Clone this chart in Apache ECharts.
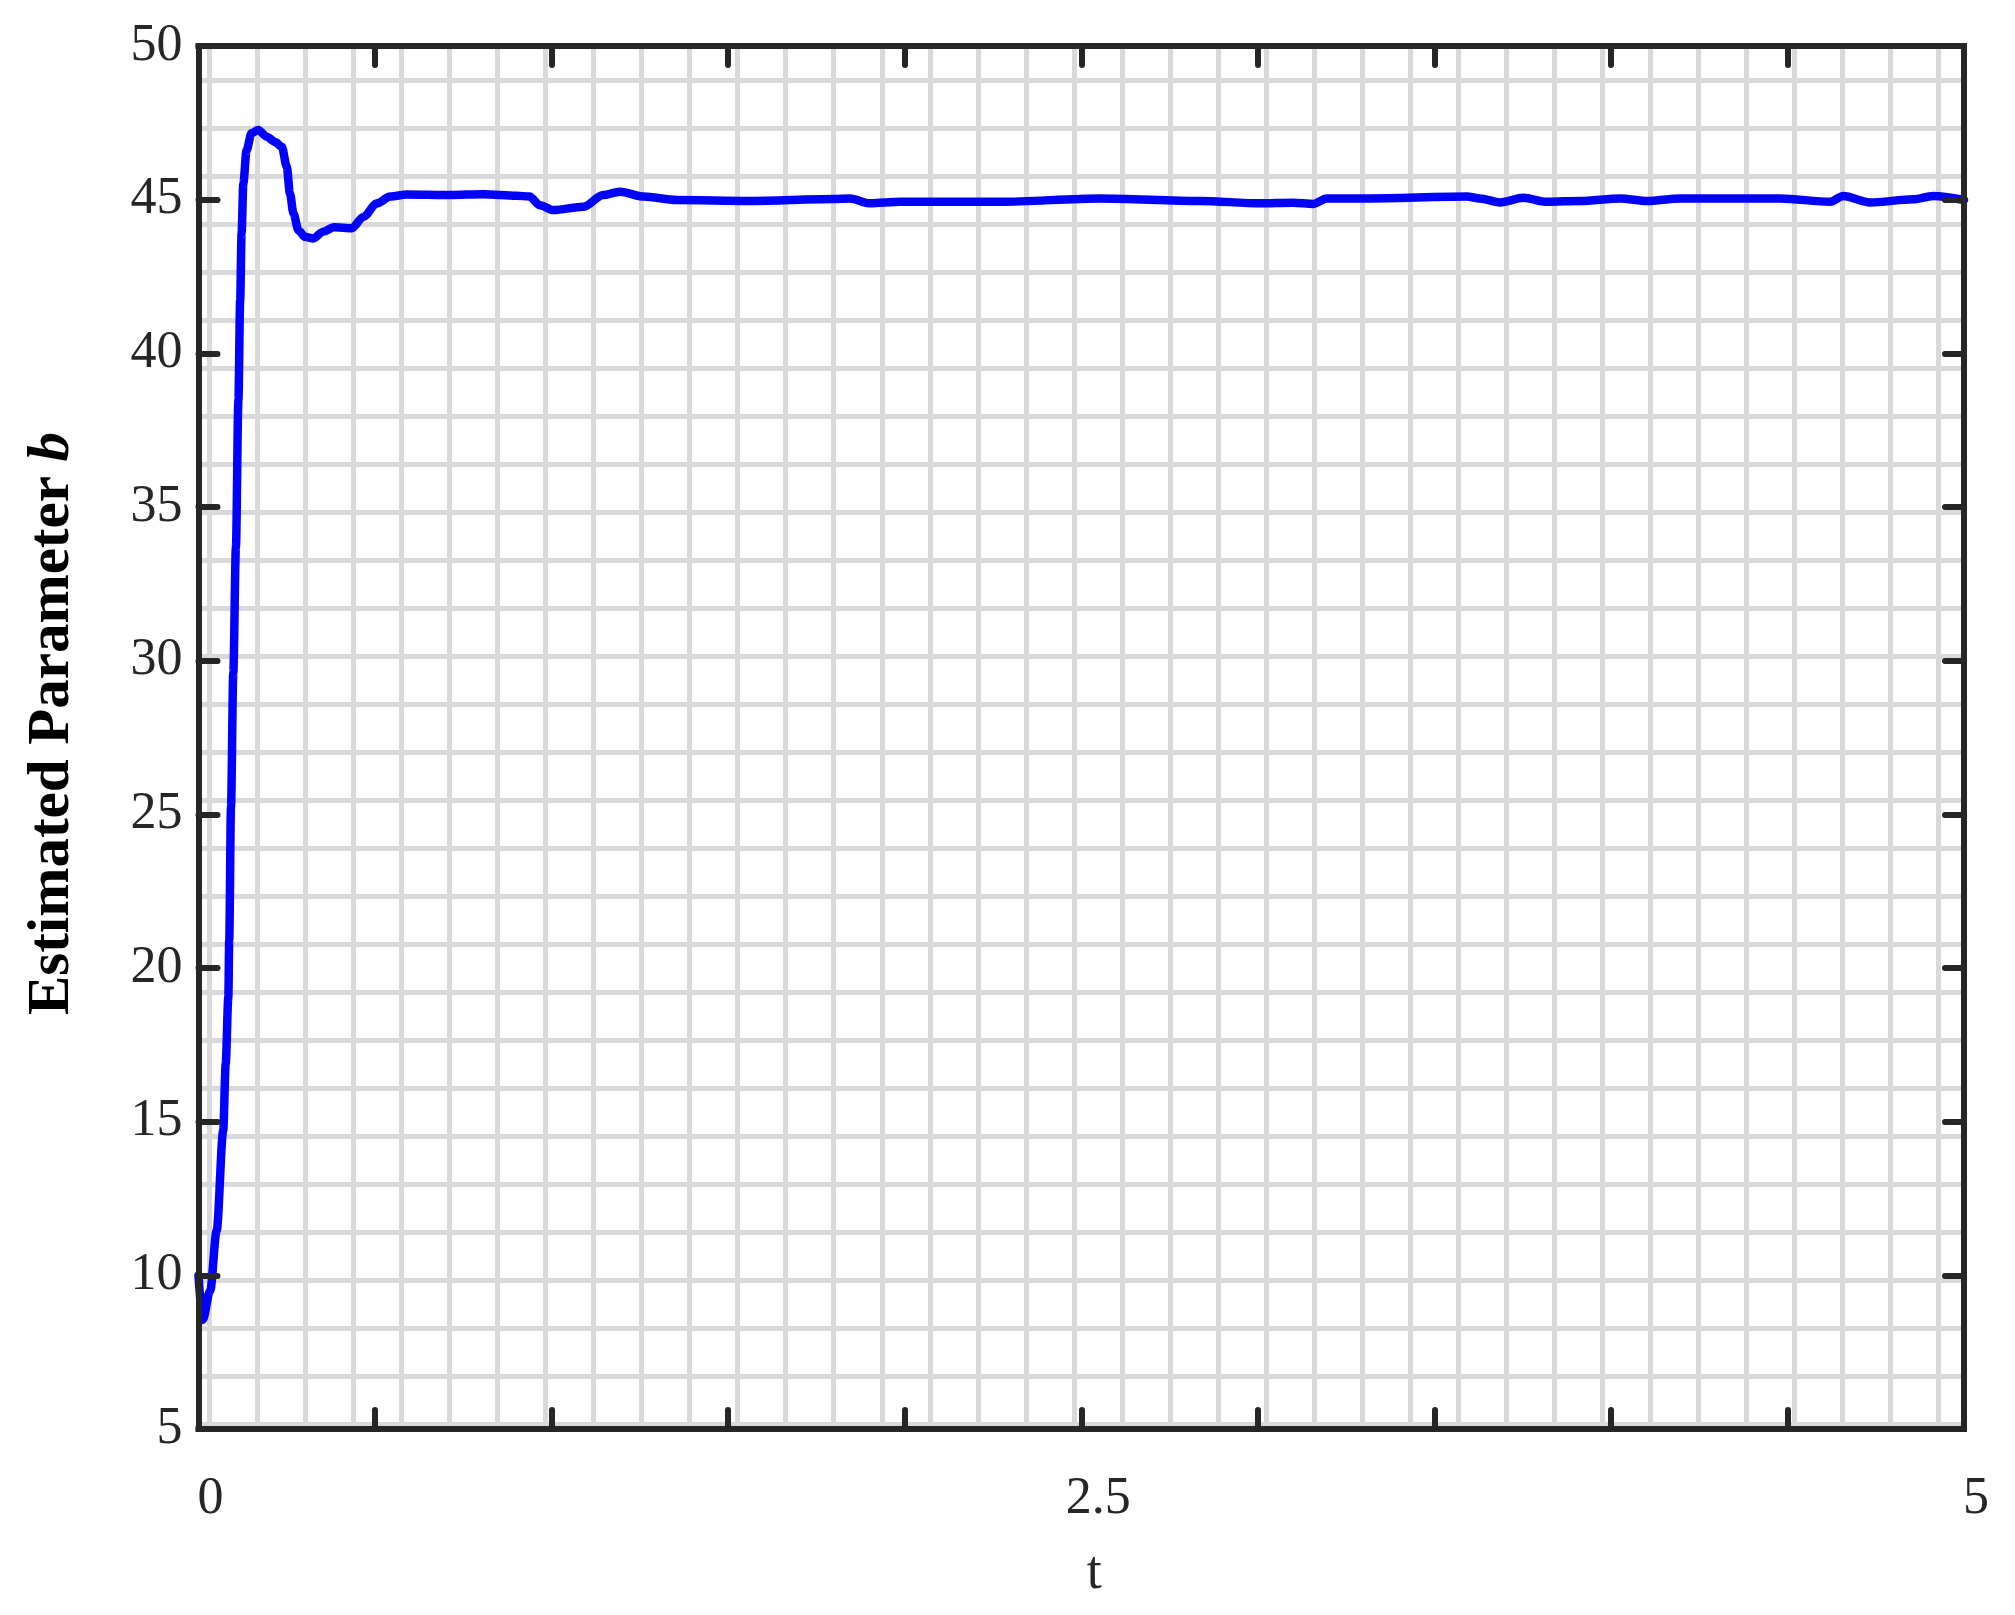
<!DOCTYPE html>
<html>
<head>
<meta charset="utf-8">
<script src="https://cdn.jsdelivr.net/npm/echarts@6/dist/echarts.min.js"></script>
<style>
  html, body { margin: 0; padding: 0; background: #ffffff; }
  #chart { width: 2015px; height: 1615px; }
</style>
</head>
<body>
<div id="chart"></div>
<script>
// time samples
var tValues = [0.000, 0.012, 0.033, 0.0515, 0.070, 0.077, 0.0845, 0.087, 0.092, 0.0985,
  0.106, 0.113, 0.118, 0.122, 0.127, 0.136, 0.150, 0.169, 0.193, 0.217,
  0.236, 0.250, 0.259, 0.269, 0.283, 0.302, 0.325, 0.353, 0.383, 0.434,
  0.467, 0.505, 0.543, 0.590, 0.712, 0.806, 0.900, 0.9375, 0.967, 1.005,
  1.090, 1.146, 1.194, 1.260, 1.354, 1.562, 1.798, 1.845, 1.902, 1.987,
  2.270, 2.553, 2.836, 3.006, 3.100, 3.157, 3.195, 3.309, 3.592, 3.629,
  3.686, 3.752, 3.818, 3.913, 4.026, 4.102, 4.196, 4.479, 4.621, 4.658,
  4.734, 4.857, 4.913, 5.000];
// estimated parameter b
var bValues = [10.0, 8.55, 9.5, 11.46, 14.71, 16.88, 19.05, 20.9, 25.24, 29.6,
  33.7, 38.48, 41.73, 43.9, 45.53, 46.6, 47.16, 47.27, 47.05, 46.88,
  46.72, 46.07, 45.2, 44.55, 44.0, 43.79, 43.74, 43.96, 44.1, 44.07,
  44.44, 44.88, 45.1, 45.17, 45.15, 45.18, 45.13, 45.1, 44.82, 44.66,
  44.77, 45.15, 45.26, 45.1, 44.99, 44.96, 45.02, 45.04, 44.88, 44.93,
  44.93, 45.04, 44.96, 44.88, 44.9, 44.86, 45.04, 45.04, 45.1, 45.04,
  44.91, 45.06, 44.93, 44.96, 45.04, 44.96, 45.04, 45.04, 44.93, 45.12,
  44.91, 45.01, 45.12, 44.99];
var xTickLabels = ['0', '2.5', '5'];

var seriesData = tValues.map(function (t, i) { return [t, bValues[i]]; });

var axisColor = '#262626';
var gridColor = '#d9d9d9';
var font = 'Liberation Serif';

var chart = echarts.init(document.getElementById('chart'));

var boxTick = { show: true, inside: true, length: 19, lineStyle: { color: axisColor, width: 6, cap: 'round' } };
var boxLine = { show: true, onZero: false, lineStyle: { color: axisColor, width: 6, cap: 'square' } };

chart.setOption({
  backgroundColor: '#ffffff',
  animation: false,
  grid: [
    { left: 198.5, right: 51, top: 46, bottom: 186 },
    // vertical background lines
    { left: 209.3, right: 51, top: 46, bottom: 186 },
    // horizontal background lines
    { left: 198.5, right: 51, top: 80, bottom: 186 }
  ],
  xAxis: [
    {
      type: 'value', gridIndex: 0, min: 0, max: 5, interval: 0.5, position: 'bottom', z: 5,
      name: 't', nameLocation: 'middle', nameGap: 118,
      nameTextStyle: { fontFamily: font, fontSize: 54, color: axisColor, padding: [0, 0, 0, 26] },
      axisLine: boxLine, axisTick: boxTick, splitLine: { show: false },
      axisLabel: {
        margin: 44, color: axisColor, fontFamily: font, fontSize: 52,
        formatter: function (v) {
          var s = String(v);
          if (xTickLabels.indexOf(s) < 0) return '';
          return s === '2.5' ? '{m|' + s + '}' : '{e|' + s + '}';
        },
        rich: {
          e: { fontFamily: font, fontSize: 52, color: axisColor, padding: [0, 0, 0, 24] },
          m: { fontFamily: font, fontSize: 52, color: axisColor, padding: [0, 0, 0, 34] }
        }
      }
    },
    {
      type: 'value', gridIndex: 0, min: 0, max: 5, interval: 0.5, position: 'top', z: 5,
      axisLine: boxLine, axisTick: boxTick, axisLabel: { show: false }, splitLine: { show: false }
    },
    {
      type: 'value', gridIndex: 1, min: 0, max: 36.53, interval: 1, z: 0,
      axisLine: { show: false }, axisTick: { show: false }, axisLabel: { show: false },
      splitLine: { show: true, lineStyle: { color: gridColor, width: 5 } }
    },
    {
      type: 'value', gridIndex: 2, min: 0, max: 10, show: false
    }
  ],
  yAxis: [
    {
      type: 'value', gridIndex: 0, min: 5, max: 50, interval: 5, position: 'left', z: 5,
      name: 'Estimated Parameter {i|b}', nameLocation: 'middle', nameGap: 116, nameRotate: 90,
      nameTextStyle: {
        fontFamily: font, fontSize: 59, fontWeight: 'bold', color: '#000000', padding: [0, 0, 0, 28],
        rich: { i: { fontFamily: font, fontSize: 59, fontWeight: 'bold', fontStyle: 'italic', color: '#000000' } }
      },
      axisLine: boxLine, axisTick: boxTick, splitLine: { show: false },
      axisLabel: { margin: 16, color: axisColor, fontFamily: font, fontSize: 52, padding: [18, 0, 0, 0] }
    },
    {
      type: 'value', gridIndex: 0, min: 5, max: 50, interval: 5, position: 'right', z: 5,
      axisLine: boxLine, axisTick: boxTick, axisLabel: { show: false }, splitLine: { show: false }
    },
    {
      type: 'value', gridIndex: 1, min: 0, max: 10, show: false
    },
    {
      type: 'value', gridIndex: 2, min: 0, max: 28.1, interval: 1, inverse: true, z: 0,
      axisLine: { show: false }, axisTick: { show: false }, axisLabel: { show: false },
      splitLine: { show: true, lineStyle: { color: gridColor, width: 5 } }
    }
  ],
  series: [
    {
      name: 'b',
      type: 'line',
      xAxisIndex: 0,
      yAxisIndex: 0,
      data: seriesData,
      showSymbol: false,
      smooth: 0.3,
      smoothMonotone: 'x',
      z: 4,
      lineStyle: { color: '#0000ff', width: 8.5, join: 'round', cap: 'round' }
    }
  ]
});
</script>
</body>
</html>
